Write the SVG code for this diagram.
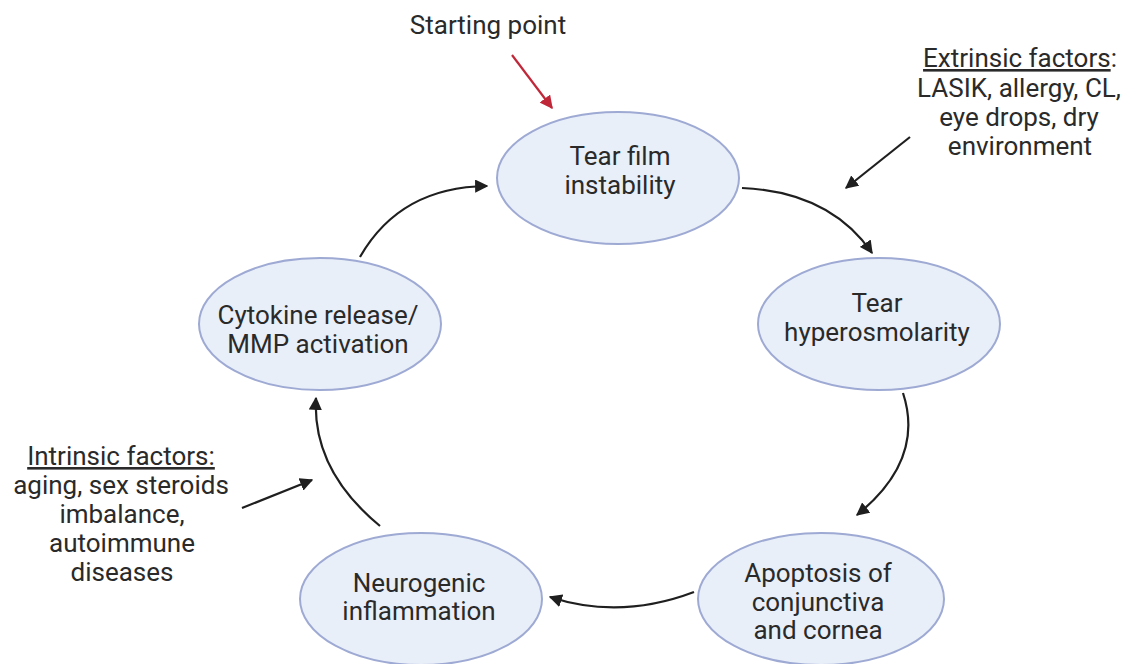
<svg xmlns="http://www.w3.org/2000/svg" width="1130" height="664" viewBox="0 0 1130 664">
<style>
.n{fill:#e9eff9;stroke:#9eaad3;stroke-width:2}
.t{font-family:Roboto,"Liberation Sans",sans-serif;font-size:26px;fill:#2a2a2a;text-anchor:middle}
.c{fill:none;stroke:#1f1f1f;stroke-width:2.2}
.u{text-decoration:underline}
</style>
<defs>
<marker id="ah" viewBox="0 0 10 10" refX="9" refY="5" markerWidth="6" markerHeight="6" orient="auto" markerUnits="strokeWidth">
<path d="M0,0 L10,5 L0,10 z" fill="#1f1f1f"/>
</marker>
<marker id="ahr" viewBox="0 0 10 10" refX="9" refY="5" markerWidth="6" markerHeight="6" orient="auto" markerUnits="strokeWidth">
<path d="M0,0 L10,5 L0,10 z" fill="#c0283a"/>
</marker>
</defs>
<rect width="1130" height="664" fill="#ffffff"/>
<g id="connectors">
<path class="c" d="M742,188 Q830,192 872,253" marker-end="url(#ah)"/>
<path class="c" d="M903,393 Q925,460 857,515" marker-end="url(#ah)"/>
<path class="c" d="M694,592 Q620,620 550,597" marker-end="url(#ah)"/>
<path class="c" d="M380,526 Q312,470 316,398" marker-end="url(#ah)"/>
<path class="c" d="M360,257 Q400,187 487,186" marker-end="url(#ah)"/>
<path d="M512,55 L552,108" fill="none" stroke="#c0283a" stroke-width="2.2" marker-end="url(#ahr)"/>
<path class="c" d="M910,137 L846,188" marker-end="url(#ah)"/>
<path class="c" d="M242,508 L312,480" marker-end="url(#ah)"/>
</g>
<g id="start-label"><text class="t" x="488" y="34">Starting point</text></g>
<g id="extrinsic">
<text class="t" x="1020" y="67"><tspan class="u">Extrinsic factors</tspan>:</text>
<text class="t" x="1019" y="97">LASIK, allergy, CL,</text>
<text class="t" x="1019" y="126">eye drops, dry</text>
<text class="t" x="1020" y="155">environment</text>
</g>
<g id="intrinsic">
<text class="t u" x="121" y="465">Intrinsic factors:</text>
<text class="t" x="121" y="494">aging, sex steroids</text>
<text class="t" x="122" y="523">imbalance,</text>
<text class="t" x="122" y="552">autoimmune</text>
<text class="t" x="122" y="581">diseases</text>
</g>
<g id="tear-film">
<ellipse class="n" cx="618" cy="178" rx="121" ry="66"/>
<text class="t" x="620" y="165">Tear film</text>
<text class="t" x="620" y="194">instability</text>
</g>
<g id="hyperosmolarity">
<ellipse class="n" cx="879" cy="324" rx="121" ry="66"/>
<text class="t" x="877" y="312">Tear</text>
<text class="t" x="877" y="341">hyperosmolarity</text>
</g>
<g id="apoptosis">
<ellipse class="n" cx="821" cy="599" rx="123" ry="66"/>
<text class="t" x="818" y="582">Apoptosis of</text>
<text class="t" x="818" y="611">conjunctiva</text>
<text class="t" x="818" y="639">and cornea</text>
</g>
<g id="neurogenic">
<ellipse class="n" cx="421" cy="599" rx="121" ry="66"/>
<text class="t" x="419" y="592">Neurogenic</text>
<text class="t" x="419" y="620">inflammation</text>
</g>
<g id="cytokine">
<ellipse class="n" cx="320" cy="324" rx="121" ry="66"/>
<text class="t" x="318" y="324">Cytokine release/</text>
<text class="t" x="318" y="353">MMP activation</text>
</g>
</svg>
